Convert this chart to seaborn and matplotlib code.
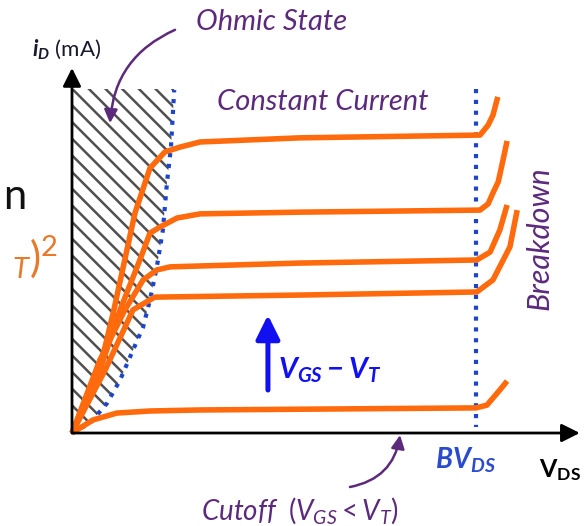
import matplotlib
matplotlib.use("Agg")
import matplotlib.pyplot as plt
import seaborn as sns
import pandas as pd

# ---------------- data (V_DS in V-like units, i_D in mA-like units) ----------------
curve_names = ["top", "second", "third", "fourth", "cutoff"]
vds_top = [0, 6.2, 10.2, 15.6, 19.3, 23.0, 26.7, 31.7, 56.4, 101.0, 103.0, 104.2, 105.4]
id_top = [0, 15.4, 34.9, 64.0, 77.0, 81.7, 83.1, 84.6, 85.8, 86.6, 89.5, 92.4, 97.7]
vds_second = [0, 5.7, 11.9, 16.8, 19.3, 21.8, 26.0, 31.7, 56.4, 101.0, 103.0, 104.2, 105.5, 106.7, 107.7]
id_second = [0, 14.0, 35.8, 50.3, 58.1, 59.9, 62.5, 63.7, 64.2, 64.8, 66.6, 69.8, 73.0, 79.4, 84.9]
vds_third = [0, 6.9, 13.1, 17.6, 21.0, 24.3, 56.4, 100.2, 103.5, 105.9, 107.7]
id_third = [0, 21.2, 35.8, 44.5, 47.4, 48.3, 49.4, 50.3, 52.6, 59.0, 66.3]
vds_fourth = [0, 8.2, 15.1, 19.3, 20.5, 56.4, 100.2, 104.2, 108.4, 110.2]
id_fourth = [0, 18.3, 35.8, 38.7, 39.5, 40.1, 41.0, 44.5, 54.1, 64.8]
vds_cutoff = [0, 5.2, 11.1, 19.3, 31.7, 100.0, 102.7, 105.9, 107.7]
id_cutoff = [0, 3.8, 5.8, 6.4, 6.7, 7.3, 8.1, 12.5, 15.1]

# ohmic / saturation boundary (dotted blue)
vds_edge = [0, 4.5, 8.7, 11.9, 15.1, 17.6, 19.3, 21.0, 22.5, 23.5, 24.5, 25.3]
id_edge = [0, 2.9, 8.7, 15.4, 24.1, 30.8, 38.7, 48.3, 59.0, 72.7, 83.1, 99.7]
ohmic_top = 100.0

bv_ds = 100.0
bv_line_id = [100.0, 1.7]
x_axis_end = 125.7
y_axis_end = 106.1
vgs_arrow = [48.5, 12.5, 34.3]  # x, start, end

ORANGE = "#FF6A0D"
DOTBLUE = "#1C45CC"
ARROWBLUE = "#1010F0"
PURPLE = "#5C2A7C"
ORANGE_TXT = "#E8782A"

# ---------------- style ----------------
sns.set_theme(style="white")
plt.rcParams["font.family"] = ["Lato", "DejaVu Sans"]
plt.rcParams["mathtext.fontset"] = "custom"
plt.rcParams["mathtext.rm"] = "Lato"
plt.rcParams["mathtext.it"] = "Lato:italic"
plt.rcParams["mathtext.bf"] = "Lato:italic:bold"
plt.rcParams["mathtext.sf"] = "Lato:bold"
plt.rcParams["hatch.linewidth"] = 1.8

fig = plt.figure(figsize=(5.86, 5.26), dpi=100)
ax = fig.add_axes([0, 0, 1, 1])
ax.set_xlim(-17.82, 127.23)
ax.set_ylim(-27.03, 125.87)
ax.axis("off")

# hatched ohmic region
poly_x = [0, 0] + [vds_edge[-1]] + vds_edge[::-1]
poly_y = [0, ohmic_top] + [ohmic_top] + id_edge[::-1]
ax.fill(poly_x, poly_y, facecolor="none", edgecolor="#505050", hatch="\\\\", lw=0, zorder=1)

# orange characteristic curves
rows = []
for name, xs, ys in zip(curve_names,
                        [vds_top, vds_second, vds_third, vds_fourth, vds_cutoff],
                        [id_top, id_second, id_third, id_fourth, id_cutoff]):
    for x, y in zip(xs, ys):
        rows.append({"curve": name, "vds": x, "id": y})
df = pd.DataFrame(rows)
sns.lineplot(data=df, x="vds", y="id", units="curve", estimator=None, sort=False,
             color=ORANGE, lw=4.0, solid_joinstyle="round", solid_capstyle="butt",
             ax=ax, zorder=3)

# dotted blue boundaries
sns.lineplot(x=vds_edge, y=id_edge, sort=False, estimator=None, color=DOTBLUE, lw=3.0,
             linestyle=(0, (1, 1.6)), dash_capstyle="butt", ax=ax, zorder=2)
sns.lineplot(x=[bv_ds, bv_ds], y=bv_line_id, sort=False, estimator=None, color=DOTBLUE,
             lw=3.0, linestyle=(0, (1, 1.6)), dash_capstyle="butt", ax=ax, zorder=2)

# axes arrows
axis_arrow = dict(arrowstyle="-|>,head_length=1.1,head_width=0.55", lw=2.0, color="black",
                  mutation_scale=10, shrinkA=0, shrinkB=0)
ax.annotate("", xy=(x_axis_end, 0), xytext=(0, 0), arrowprops=axis_arrow, zorder=4)
ax.annotate("", xy=(0, y_axis_end), xytext=(0, 0), arrowprops=axis_arrow, zorder=4)

# V_GS - V_T arrow
ax.annotate("", xy=(vgs_arrow[0], vgs_arrow[2]), xytext=(vgs_arrow[0], vgs_arrow[1]),
            arrowprops=dict(arrowstyle="-|>,head_length=1.45,head_width=0.72", lw=3.6,
                            color=ARROWBLUE, mutation_scale=10, shrinkA=0, shrinkB=0))
ax.text(51.0, 18.3, r"$\mathbf{V_{GS} - V_T}$", color=ARROWBLUE, fontsize=21,
        ha="left", va="center")

# annotations
ax.text(49.5, 119.5, "Ohmic State", color=PURPLE, fontsize=21, fontstyle="italic",
        ha="center", va="center")
ax.annotate("", xy=(9.4, 90.1), xytext=(25.5, 117.2),
            arrowprops=dict(arrowstyle="-|>,head_length=0.8,head_width=0.4", lw=1.8,
                            color=PURPLE, mutation_scale=10, shrinkA=0, shrinkB=0,
                            connectionstyle="arc3,rad=0.3"))
ax.text(62.1, 96.2, "Constant Current", color=PURPLE, fontsize=21, fontstyle="italic",
        ha="center", va="center")
ax.text(115.8, 56.7, "Breakdown", color=PURPLE, fontsize=22, fontstyle="italic",
        rotation=90, ha="center", va="center")
ax.text(56.4, -22.4, r"Cutoff  $(V_{GS} < V_T)$", color=PURPLE, fontsize=20,
        fontstyle="italic", ha="center", va="center")
ax.annotate("", xy=(81.2, -0.6), xytext=(68.8, -15.7),
            arrowprops=dict(arrowstyle="-|>,head_length=0.8,head_width=0.4", lw=1.8,
                            color=PURPLE, mutation_scale=10, shrinkA=0, shrinkB=0,
                            connectionstyle="arc3,rad=0.35"))

# axis labels
ax.text(-1.3, 111.3, r"$\mathbf{i_D}$ (mA)", color="#1a1a2e", fontsize=16,
        ha="center", va="center")
ax.text(97.3, -7.9, r"$\mathbf{BV_{DS}}$", color="#2A4BD0", fontsize=20,
        ha="center", va="center")
ax.text(120.8, -10.8, r"$\mathsf{V_{DS}}$", color="black", fontsize=18,
        ha="center", va="center")

# partial surrounding slide text
ax.text(-14.1, 68.6, "n", color="#111111", fontsize=30, ha="center", va="center")
ax.text(-3.5, 51.2, r"${}_{T})^{2}$", color=ORANGE_TXT, fontsize=30, ha="right", va="center")

fig.savefig("out.png", dpi=100)
